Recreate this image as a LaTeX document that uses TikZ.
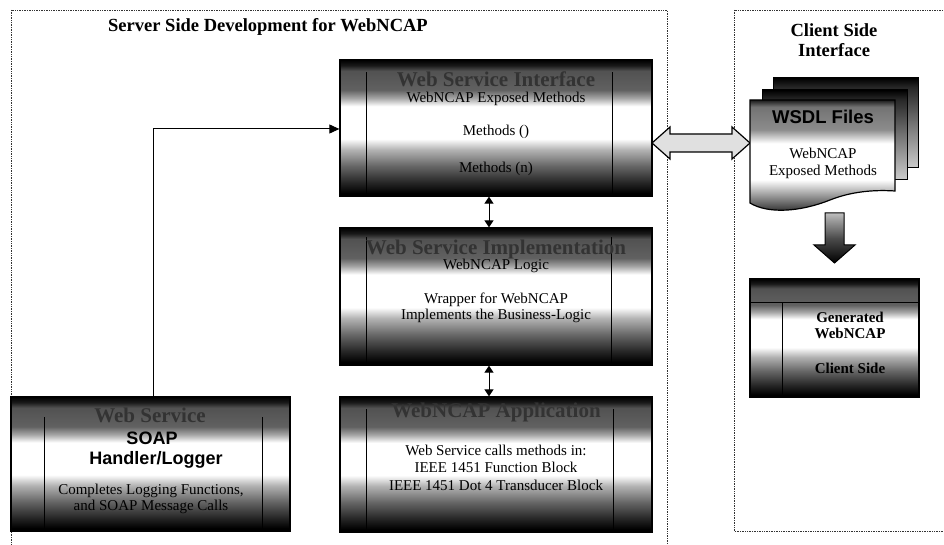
\documentclass[tikz,border=0pt]{standalone}
\usepackage{fontspec}
\setmainfont{Liberation Serif}
\newfontfamily\arialfont{Liberation Sans}
\usetikzlibrary{arrows.meta}

\pgfdeclareverticalshading{boxshade}{100bp}{color(0bp)=(black); color(26bp)=(black); color(30bp)=(black!85); color(36bp)=(black!60); color(42bp)=(black!30); color(46bp)=(white); color(58bp)=(white); color(61bp)=(black!35); color(64bp)=(black!62); color(71bp)=(black!68); color(73bp)=(black!90); color(75bp)=(black); color(100bp)=(black)}
\pgfdeclareverticalshading{docshade}{100bp}{color(0bp)=(black!90); color(25bp)=(black!90); color(28bp)=(black!70); color(34bp)=(black!35); color(40bp)=(white); color(56bp)=(white); color(62bp)=(black!45); color(72bp)=(black!55); color(75bp)=(black!90); color(100bp)=(black!90)}
\pgfdeclareverticalshading{backshade}{100bp}{color(0bp)=(white); color(25bp)=(black!20); color(50bp)=(black!55); color(70bp)=(black!85); color(75bp)=(black); color(100bp)=(black)}
\pgfdeclareverticalshading{downshade}{100bp}{color(0bp)=(black); color(25bp)=(black); color(50bp)=(black!70); color(70bp)=(black!35); color(75bp)=(black!25); color(100bp)=(black!25)}

\tikzset{
  block/.style={draw=black, line width=1.3pt, shading=boxshade, inner sep=0pt},
  divider/.style={draw=black, line width=1.1pt},
  txt/.style={inner sep=0pt, font=\fontsize{15}{17}\selectfont},
  boldtxt/.style={inner sep=0pt, font=\fontsize{15}{17}\selectfont\bfseries},
  ttl/.style={inner sep=0pt, font=\fontsize{21}{24}\selectfont\bfseries, text=black!80},
  sanstxt/.style={inner sep=0pt, font=\arialfont\fontsize{18}{20}\selectfont\bfseries},
  heading/.style={inner sep=0pt, font=\fontsize{18.5}{20}\selectfont\bfseries, align=center},
  panel/.style={draw=black!80, densely dotted, line width=0.7pt},
  link/.style={draw=black, line width=1pt},
  dbl/.style={draw=black, line width=1pt, {Triangle[length=7pt,width=9pt]}-{Triangle[length=7pt,width=9pt]}},
}

\begin{document}
\begin{tikzpicture}[x=1pt,y=-1pt]
\useasboundingbox (0,0) rectangle (944,545);
\fill[white] (0,0) rectangle (944,545);
\begin{scope}
\clip (0,0) rectangle (944,545);
\draw[panel] (11,10) rectangle (667,560);
\draw[panel] (734,10) rectangle (960,531);
\end{scope}

% headings
\node[heading] (stitle) at (268,27) {Server Side Development for WebNCAP};
\node[heading] (ctitle) at (834,40) {Client Side\\Interface};

% server blocks
\node[block, minimum width=312pt, minimum height=136pt] (wsi) at (496,128) {};
\node[block, minimum width=312pt, minimum height=137pt] (wsimp) at (496,296.5) {};
\node[block, minimum width=312pt, minimum height=135pt] (app) at (496,464.5) {};
\node[block, minimum width=279pt, minimum height=134pt] (soap) at (150.5,464) {};

% inner vertical lines
\draw[divider] ([xshift=27pt,yshift=-13pt]wsi.north west) -- ([xshift=27pt]wsi.south west);
\draw[divider] ([xshift=-40pt,yshift=-13pt]wsi.north east) -- ([xshift=-40pt]wsi.south east);
\draw[divider] ([xshift=27pt,yshift=-10pt]wsimp.north west) -- ([xshift=27pt]wsimp.south west);
\draw[divider] ([xshift=-41pt,yshift=-10pt]wsimp.north east) -- ([xshift=-41pt]wsimp.south east);
\draw[divider] ([xshift=27pt,yshift=-13pt]app.north west) -- ([xshift=27pt]app.south west);
\draw[divider] ([xshift=-39pt,yshift=-13pt]app.north east) -- ([xshift=-39pt]app.south east);
\draw[divider] ([xshift=34pt,yshift=-21pt]soap.north west) -- ([xshift=34pt]soap.south west);
\draw[divider] ([xshift=-28pt,yshift=-21pt]soap.north east) -- ([xshift=-28pt]soap.south east);

% texts box 1
\node[ttl] (t1) at (496,79) {Web Service Interface};
\node[txt] (t1a) at (496,99) {WebNCAP Exposed Methods};
\node[txt] (t1b) at (496,132) {Methods ()};
\node[txt] (t1c) at (496,169) {Methods (n)};
% box 2
\node[ttl] (t2) at (496,249) {Web Service Implementation};
\node[txt] (t2a) at (496,266) {WebNCAP Logic};
\node[txt] (t2b) at (496,300) {Wrapper for WebNCAP};
\node[txt] (t2c) at (496,316) {Implements the Business-Logic};
% box 3
\node[ttl] (t3) at (496,412) {WebNCAP Application};
\node[txt] (t3a) at (496,450) {Web Service calls methods in:};
\node[txt] (t3b) at (496,467) {IEEE 1451 Function Block};
\node[txt] (t3c) at (496,485) {IEEE 1451 Dot 4 Transducer Block};
% soap box
\node[ttl] (t4) at (150,415) {Web Service};
\node[sanstxt] (t4a) at (152,438) {SOAP};
\node[sanstxt] (t4b) at (156,460) {Handler/Logger};
\node[txt] (t4c) at (151,491) {Completes Logging Functions,};
\node[txt] (t4d) at (151,507) {and SOAP Message Calls};

% connectors
\draw[link, -{Triangle[length=10pt,width=9pt]}] ([xshift=2.5pt]soap.north) |- ([yshift=-1pt]wsi.west);
\draw[dbl] ([xshift=-7pt]wsi.south) -- ([xshift=-7pt]wsimp.north);
\draw[dbl] ([xshift=-7pt]wsimp.south) -- ([xshift=-7pt]app.north);

% block double arrow
\draw[line width=1.2pt, fill=black!12] (652,143) -- (670,127) -- (670,134) -- (732,134) -- (732,127) -- (750,143) -- (732,159) -- (732,152) -- (670,152) -- (670,159) -- cycle;

% WSDL documents
\draw[line width=1pt, shading=backshade] (773,78) rectangle (918,168);
\draw[line width=1pt, shading=backshade] (762,90) rectangle (907,180);
\draw[line width=1.2pt, shading=docshade] (750,100) -- (895,100) -- (895,191) .. controls (880,190) and (855,190) .. (830,200) .. controls (800,212) and (768,214) .. (750,203) -- cycle;
\node[inner sep=0pt, font=\arialfont\fontsize{18.5}{20}\selectfont\bfseries] (wsdl) at (823,117) {WSDL Files};
\node[txt] (wsdla) at (823,153) {WebNCAP};
\node[txt] (wsdlb) at (823,172) {Exposed Methods};

% down arrow
\draw[line width=1pt, shading=downshade] (825,213) -- (844,213) -- (844,245) -- (855,245) -- (834.5,263) -- (814,245) -- (825,245) -- cycle;

% generated box
\node[block, minimum width=169pt, minimum height=118pt] (gen) at (834.5,338) {};
\draw[divider] ([yshift=-24pt]gen.north west) -- ([yshift=-24pt]gen.north east);
\draw[divider] ([xshift=33pt,yshift=-24pt]gen.north west) -- ([xshift=33pt]gen.south west);
\node[boldtxt] (g1) at (850,317) {Generated};
\node[boldtxt] (g2) at (850,333) {WebNCAP};
\node[boldtxt] (g3) at (850,368) {Client Side};
\end{tikzpicture}
\end{document}
